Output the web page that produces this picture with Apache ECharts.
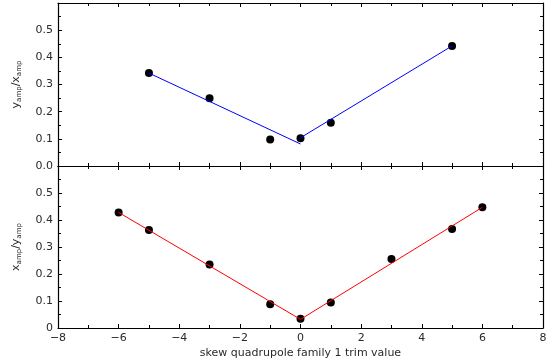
<!DOCTYPE html>
<html><head><meta charset="utf-8">
<script src="https://cdn.jsdelivr.net/npm/echarts@6/dist/echarts.min.js"></script>
<style>html,body{margin:0;padding:0;background:#fff}#c{width:550px;height:360px}</style>
</head><body><div id="c"></div>
<script>
// ---- data ----
var xTop = [-5, -3, -1, 0, 1, 5];
var yTop = [0.342, 0.249, 0.098, 0.102, 0.159, 0.442];
var fitTopLeftX = [-5, 0];
var fitTopLeftY = [0.342, 0.081];
var fitTopRightX = [0, 5];
var fitTopRightY = [0.104, 0.442];

var xBot = [-6, -5, -3, -1, 0, 1, 3, 5, 6];
var yBot = [0.428, 0.363, 0.235, 0.088, 0.034, 0.094, 0.256, 0.367, 0.447];
var fitBotLeftX = [-6, 0];
var fitBotLeftY = [0.428, 0.032];
var fitBotRightX = [0, 6];
var fitBotRightY = [0.032, 0.447];

var xTitle = 'skew quadrupole family 1 trim value';

function pairs(xs, ys){ return xs.map(function(x,i){return [x, ys[i]];}); }

var chart = echarts.init(document.getElementById('c'), null, {renderer:'canvas'});
var FONT = 'DejaVu Sans';
var TXT = '#2a2a2a';
var lineCol = '#000';

function xAx(gi, pos, labels, name){
  return {
    type:'value', gridIndex:gi, position:pos, min:-8, max:8, interval:2,
    axisLine:{show:true, onZero:false, lineStyle:{color:lineCol, width:1.2}},
    axisTick:{show:true, inside:true, length:4, lineStyle:{color:lineCol}},
    minorTick:{show:true, splitNumber:2, length:3, lineStyle:{color:lineCol}},
    splitLine:{show:false},
    name: name || '', nameLocation:'middle', nameGap:20,
    nameTextStyle:{fontFamily:FONT, fontSize:11, color:TXT},
    axisLabel:{show:labels, color:TXT, fontFamily:FONT, fontSize:11, margin:5,
      formatter:function(v){ return v<0 ? '\u2212'+(-v) : ''+v; }}
  };
}
function yAx(gi, pos, labels, zeroLabel, name){
  return {
    type:'value', gridIndex:gi, position:pos, min:0, max:0.6, interval:0.1,
    axisLine:{show:true, onZero:false, lineStyle:{color:lineCol, width:1.2}},
    axisTick:{show:true, inside:true, length:4, lineStyle:{color:lineCol}},
    minorTick:{show:true, splitNumber:2, length:3, lineStyle:{color:lineCol}},
    splitLine:{show:false},
    name: name || '', nameLocation:'middle', nameGap:35, nameRotate:90,
    nameTextStyle: name ? {
      rich:{
        n:{fontFamily:FONT, fontSize:11, color:TXT},
        s:{fontFamily:FONT, fontSize:7, color:TXT, padding:[6,0,0,0]}
      }
    } : {},
    axisLabel:{show:labels, color:TXT, fontFamily:FONT, fontSize:11, margin:5,
      formatter:function(v){
        if (Math.abs(v-0.6)<1e-6) return '';
        if (v===0) return zeroLabel;
        return v.toFixed(1);
      }}
  };
}

var option = {
  backgroundColor:'#fff',
  animation:false,
  grid:[
    {left:58, right:7, top:3, height:163},
    {left:58, right:7, top:166, height:162}
  ],
  xAxis:[
    xAx(0,'bottom',false), xAx(0,'top',false),
    xAx(1,'bottom',true,xTitle), xAx(1,'top',false)
  ],
  yAxis:[
    yAx(0,'left',true,'0.0','{n|y}{s|amp}{n|/x}{s|amp}'), yAx(0,'right',false,'',''),
    yAx(1,'left',true,'0','{n|x}{s|amp}{n|/y}{s|amp}'), yAx(1,'right',false,'','')
  ],
  series:[
    {type:'line', xAxisIndex:0, yAxisIndex:0, data:pairs(fitTopLeftX, fitTopLeftY), showSymbol:false, lineStyle:{color:'#0000ff', width:1}},
    {type:'line', xAxisIndex:0, yAxisIndex:0, data:pairs(fitTopRightX, fitTopRightY), showSymbol:false, lineStyle:{color:'#0000ff', width:1}},
    {type:'scatter', xAxisIndex:0, yAxisIndex:0, data:pairs(xTop, yTop), symbol:'circle', symbolSize:8, itemStyle:{color:'#000', opacity:1}},
    {type:'line', xAxisIndex:2, yAxisIndex:2, data:pairs(fitBotLeftX, fitBotLeftY), showSymbol:false, lineStyle:{color:'#ff0000', width:1}},
    {type:'line', xAxisIndex:2, yAxisIndex:2, data:pairs(fitBotRightX, fitBotRightY), showSymbol:false, lineStyle:{color:'#ff0000', width:1}},
    {type:'scatter', xAxisIndex:2, yAxisIndex:2, data:pairs(xBot, yBot), symbol:'circle', symbolSize:8, itemStyle:{color:'#000', opacity:1}}
  ]
};
chart.setOption(option);
</script></body></html>
